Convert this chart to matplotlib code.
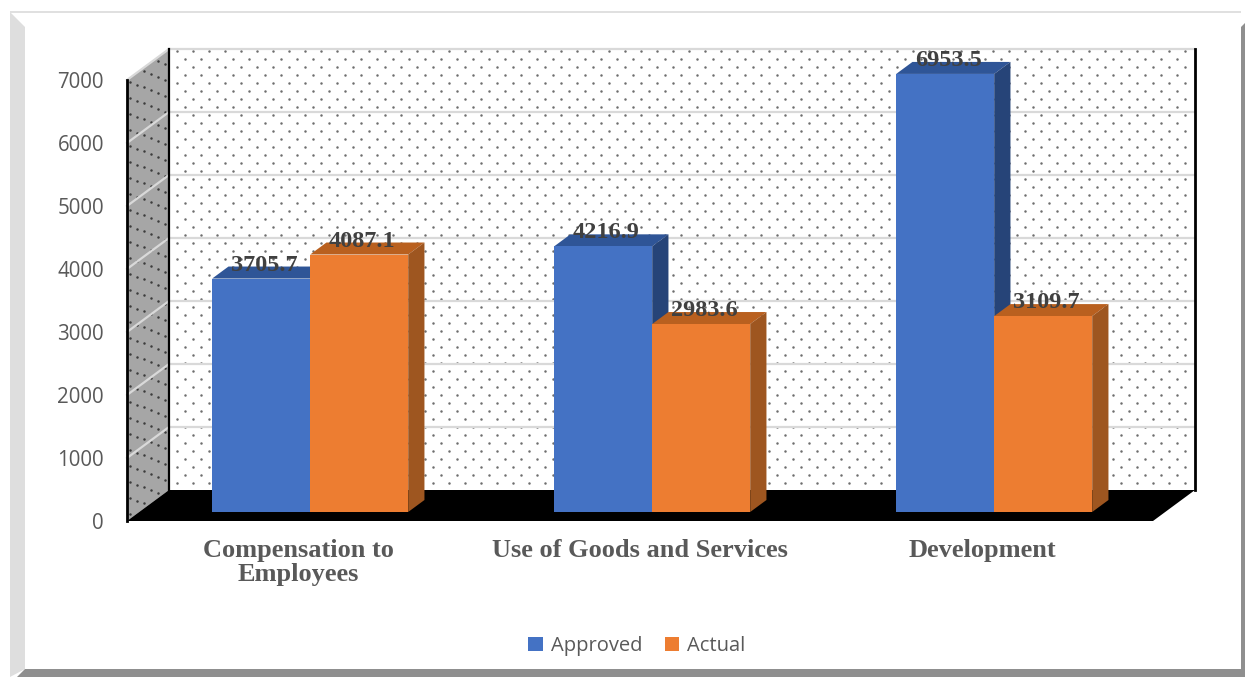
import numpy as np
import matplotlib
matplotlib.use("Agg")
import matplotlib.pyplot as plt
from matplotlib.patches import Polygon
from matplotlib.transforms import Affine2D, IdentityTransform

categories = ["Compensation to\nEmployees", "Use of Goods and Services", "Development"]
approved = [3705.7, 4216.9, 6953.5]
actual = [4087.1, 2983.6, 3109.7]
series_names = ["Approved", "Actual"]
y_ticks = [0, 1000, 2000, 3000, 4000, 5000, 6000, 7000]

W, H = 1245, 677
DEPTH_X, DEPTH_Y = 42, 31      # extent of the 3-D box along the depth direction, pixels
BAR_NEAR, BAR_FAR = 9 / 31, 21 / 31   # depth range occupied by the bars

fig = plt.figure(figsize=(W / 100, H / 100), dpi=100, facecolor="white")

# Bevelled picture frame, in pixel coordinates
frame = fig.add_axes([0, 0, 1, 1], zorder=0)
frame.set_xlim(0, W)
frame.set_ylim(H, 0)
frame.axis("off")
frame.add_patch(Polygon([(10, 12), (W - 4, 12), (W - 4, H - 8), (10, H - 8)], fc="white", ec="none"))
frame.add_patch(Polygon([(10, 12), (25, 27), (25, 669), (10, 677)], fc="#dedede", ec="none"))
frame.add_patch(Polygon([(10, 11), (W - 4, 11), (W - 4, 13), (10, 13)], fc="#e0e0e0", ec="none"))
frame.add_patch(Polygon([(1241, 27), (1245, 23), (1245, 677), (1241, 677)], fc="#8f8f8f", ec="none"))
frame.add_patch(Polygon([(25, 669), (1245, 669), (1245, 677), (17, 677)], fc="#8f8f8f", ec="none"))

# Front plane of the chart: value 0 and 7000 sit on the left axis edge
ax = fig.add_axes([127 / W, (H - 521) / H, 1026 / W, 441 / H], zorder=1)
ax.set_xlim(-0.5, 2.5)
ax.set_ylim(0, 7000)
ax.patch.set_visible(False)
for s in ax.spines.values():
    s.set_visible(False)


def shifted(depth):
    """Data transform moved back along the depth direction (0 = front, 1 = back wall)."""
    return ax.transData + Affine2D().translate(depth * DEPTH_X, depth * DEPTH_Y)


def px(x, y, depth=0):
    return shifted(depth).transform((x, y))


def poly(pts, z, **kw):
    ax.add_patch(Polygon(pts, closed=True, transform=IdentityTransform(), zorder=z,
                         clip_on=False, ec="none", **kw))


x_lo, x_hi = ax.get_xlim()

# Walls and floor
poly([px(x_lo, 0, 1), px(x_hi, 0, 1), px(x_hi, 7000, 1), px(x_lo, 7000, 1)], 1, fc="white")
poly([px(x_lo, 0, 0), px(x_lo, 0, 1), px(x_lo, 7000, 1), px(x_lo, 7000, 0)], 1, fc="#a6a6a6")

# Dotted fill of the back wall
x0, x1 = px(x_lo, 0, 1)[0], px(x_hi, 0, 1)[0]
y0, y1 = px(x_lo, 0, 1)[1], px(x_lo, 7000, 1)[1]
rows = np.arange(y1 - 2, y0, -8.0)
wall_x, wall_y = [], []
for i, ry in enumerate(rows):
    xs = np.arange(177 if i % 2 == 0 else 185, x1 - 2, 16.0)
    wall_x.extend(xs)
    wall_y.extend(np.full(xs.shape, ry))
ax.scatter(wall_x, wall_y, s=3.2, c="#6e6e6e", linewidths=0, transform=IdentityTransform(),
           zorder=1.5, clip_on=False)

# Dotted fill of the side wall, sheared along the depth direction
side_x, side_y = [], []
sx0 = px(x_lo, 0, 0)[0]
sy0 = px(x_lo, 0, 0)[1]
for i, col in enumerate(np.arange(3.0, DEPTH_X, 7.0)):
    base = sy0 + col * DEPTH_Y / DEPTH_X
    ys = np.arange(base + (8 if i % 2 else 0) + 5, base + 441, 16.0)
    side_x.extend(np.full(ys.shape, sx0 + col))
    side_y.extend(ys)
ax.scatter(side_x, side_y, s=3.2, c="#3c3c3c", linewidths=0, transform=IdentityTransform(),
           zorder=1.5, clip_on=False)

# Gridlines wrap around the side wall and the back wall
for v in y_ticks[1:]:
    a, b, c = px(x_lo, v, 0), px(x_lo, v, 1), px(x_hi, v, 1)
    ax.plot([a[0], b[0], c[0]], [a[1], b[1], c[1]], color="#d9d9d9", lw=1.6,
            transform=IdentityTransform(), zorder=1.8, clip_on=False, solid_joinstyle="miter")

poly([px(x_lo, 0, 0), px(x_hi, 0, 0), px(x_hi, 0, 1), px(x_lo, 0, 1)], 2, fc="black")

# Box edges
for (p, q, lw) in [(px(x_lo, 0, 0), px(x_lo, 7000, 0), 2.0),
                   (px(x_lo, 0, 1), px(x_lo, 7000, 1), 1.6),
                   (px(x_hi, 0, 1), px(x_hi, 7000, 1), 2.0)]:
    ax.plot([p[0], q[0]], [p[1], q[1]], color="black", lw=lw,
            transform=IdentityTransform(), zorder=2.2, clip_on=False)

# Bars: front faces through the axis, then the top and side faces behind them
bar_w = 98 / 342
pos = np.arange(len(categories))
front = {}
for k, (vals, name, fc, top, side, off) in enumerate([
        (approved, series_names[0], "#4472C4", "#2F5597", "#264478", -0.5),
        (actual, series_names[1], "#ED7D31", "#B9601F", "#9E5620", 0.5)]):
    xs = pos + off * bar_w
    for xc, v in zip(xs, vals):
        l, r = xc - bar_w / 2, xc + bar_w / 2
        poly([px(l, v, BAR_NEAR), px(r, v, BAR_NEAR), px(r, v, BAR_FAR), px(l, v, BAR_FAR)], 3, fc=top)
        poly([px(r, 0, BAR_NEAR), px(r, v, BAR_NEAR), px(r, v, BAR_FAR), px(r, 0, BAR_FAR)], 3, fc=side)
    front[name] = ax.bar(xs, vals, bar_w, color=fc, label=name, zorder=4,
                         transform=shifted(BAR_NEAR), clip_on=False)
    for xc, v in zip(xs, vals):
        tx, ty = px(xc, v, BAR_NEAR)
        ax.text(tx + 3, ty + 3, f"{v:.1f}", transform=IdentityTransform(), ha="center", va="bottom",
                family="Liberation Serif", weight="bold", fontsize=17.5, color="#404040", zorder=6)

# Axis labels
ax.set_yticks(y_ticks)
ax.set_xticks(pos)
ax.set_xticklabels(categories, family="Liberation Serif", weight="bold", fontsize=19,
                   color="#595959", linespacing=1.05)
ax.tick_params(axis="x", length=0, pad=13)
ax.tick_params(axis="y", length=0, pad=16.5, labelsize=14.8, labelcolor="#595959")
for t in ax.get_yticklabels():
    t.set_family("Open Sans")

leg = ax.legend(loc="center", bbox_to_anchor=(637 / W, (H - 646) / H),
                bbox_transform=fig.transFigure, ncol=2, frameon=False,
                prop={"family": "Open Sans", "size": 14.5}, labelcolor="#595959",
                handlelength=0.72, handleheight=0.72, handletextpad=0.4, columnspacing=1.1)

fig.savefig("out.png", dpi=100, facecolor="white")
